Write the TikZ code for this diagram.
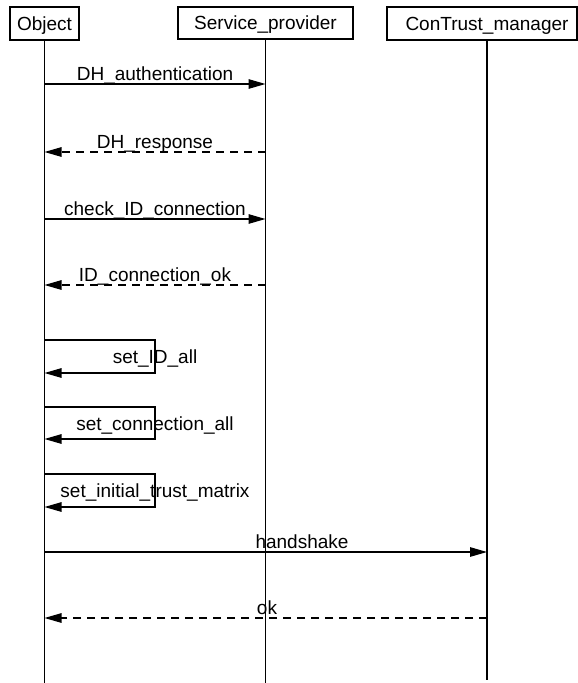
\documentclass[tikz,border=0pt]{standalone}
\usepackage{fontspec}
\setmainfont{Liberation Sans}
\usetikzlibrary{arrows.meta}
\begin{document}
\begin{tikzpicture}[x=1pt,y=-1pt,
  txt/.style={font=\fontsize{19}{21}\selectfont},
  actor/.style={draw,line width=1.2pt,inner sep=0pt,text depth=0pt,txt},
  lifeline/.style={line width=1.2pt},
  msg/.style={line width=1.2pt,-{Triangle[length=17pt,width=9.5pt]}},
  reply/.style={msg,dash pattern=on 8pt off 6pt},
  lbl/.style={anchor=base,inner sep=0pt,txt}]
\useasboundingbox (0,0) rectangle (578,683);
% actor boxes
\node[actor,minimum width=69pt,minimum height=33pt] (obj) at (44.5,23.5) {Object};
\node[actor,minimum width=175pt,minimum height=32pt] (sp) at (265.5,23) {Service\_provider};
\node[actor,minimum width=190pt,minimum height=33pt] (ctm) at (482,23.5) {};
\node[txt,inner sep=0pt,text depth=0pt] (ctmtext) at (487,23.5) {ConTrust\_manager};
% lifelines
\coordinate (objtop) at (44.5,40);
\coordinate (objend) at (44.5,683);
\coordinate (sptop) at (265.5,39);
\coordinate (spend) at (265.5,683);
\coordinate (ctmtop) at (487,40);
\coordinate (ctmend) at (487,680);
\draw[lifeline] (objtop) -- (objend);
\draw[lifeline] (sptop) -- (spend);
\draw[lifeline] (ctmtop) -- (ctmend);
% message anchor points
\coordinate (o1) at (44.5,84);   \coordinate (s1) at (265.5,84);
\coordinate (o2) at (44.5,152);  \coordinate (s2) at (265.5,152);
\coordinate (o3) at (44.5,219);  \coordinate (s3) at (265.5,219);
\coordinate (o4) at (44.5,285);  \coordinate (s4) at (265.5,285);
\coordinate (o8) at (44.5,552);  \coordinate (c8) at (487,552);
\coordinate (o9) at (44.5,618);  \coordinate (c9) at (487,618);
% messages
\draw[msg] (o1) -- (s1);
\node[lbl] (l1) at (155,80.5) {DH\_authentication};
\draw[reply] (s2) -- (o2);
\node[lbl] (l2) at (155,148.5) {DH\_response};
\draw[msg] (o3) -- (s3);
\node[lbl] (l3) at (155,215.5) {check\_ID\_connection};
\draw[reply] (s4) -- (o4);
\node[lbl] (l4) at (155,281.5) {ID\_connection\_ok};
% self messages
\coordinate (a5) at (44.5,340); \coordinate (b5) at (155,340);
\coordinate (c5) at (155,373);  \coordinate (d5) at (44.5,373);
\draw[msg] (a5) -- (b5) -- (c5) -- (d5);
\node[lbl] (l5) at (155,363) {set\_ID\_all};
\coordinate (a6) at (44.5,407); \coordinate (b6) at (155,407);
\coordinate (c6) at (155,439);  \coordinate (d6) at (44.5,439);
\draw[msg] (a6) -- (b6) -- (c6) -- (d6);
\node[lbl] (l6) at (155,430) {set\_connection\_all};
\coordinate (a7) at (44.5,474); \coordinate (b7) at (155,474);
\coordinate (c7) at (155,507);  \coordinate (d7) at (44.5,507);
\draw[msg] (a7) -- (b7) -- (c7) -- (d7);
\node[lbl] (l7) at (155,497) {set\_initial\_trust\_matrix};
% handshake / ok
\draw[msg] (o8) -- (c8);
\node[lbl] (l8) at (302,548) {handshake};
\draw[reply] (c9) -- (o9);
\node[lbl] (l9) at (267,614.5) {ok};
\end{tikzpicture}
\end{document}
